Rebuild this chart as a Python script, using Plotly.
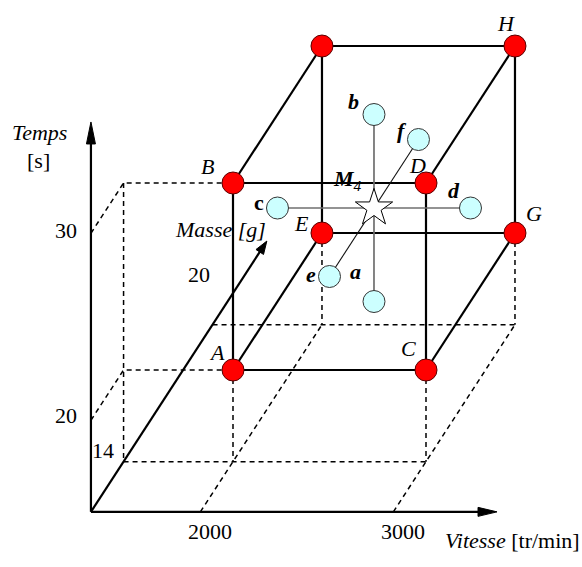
import numpy as np
import plotly.graph_objects as go

# --- Factor levels of the 2^3 design -------------------------------------
VITESSE_LEVELS = [2000, 3000]   # tr/min
MASSE_LEVELS = [14, 20]         # g
TEMPS_LEVELS = [20, 30]         # s

# Cube corners (label, vitesse, masse, temps); the back-top-left one is unnamed
corner_labels = ["A", "B", "C", "D", "E", "", "G", "H"]
corner_vitesse = [2000, 2000, 3000, 3000, 2000, 2000, 3000, 3000]
corner_masse = [14, 14, 14, 14, 20, 20, 20, 20]
corner_temps = [20, 30, 20, 30, 20, 30, 20, 30]

# Centre point and face-centred axial points
center_label = "M<sub>4</sub>"
center_point = [2500, 17, 25]
axial_labels = ["a", "b", "c", "d", "e", "f"]
axial_vitesse = [2500, 2500, 2000, 3000, 2500, 2500]
axial_masse = [17, 17, 17, 17, 14, 20]
axial_temps = [20, 30, 25, 25, 25, 25]

# Tick values shown on the three axes
vitesse_ticks = [2000, 3000]
temps_ticks = [20, 30]
masse_ticks = [14, 20]

# Where the drawn axes start and end (in data units)
AXIS_ORIGIN = (1433, 11.8, 15.1)
VITESSE_END = 3537
TEMPS_END = 35.95
MASSE_END = 23.66

# --- Oblique (cavalier-like) projection onto the canvas -------------------
W, H = 582, 567
ANCHOR_XY = (233.0, 370.0)      # canvas position of the (2000, 14, 20) corner
KV = 0.193                      # px per tr/min
KT = 18.7                       # px per s
MX, MY = 14.83, 22.83           # px per g (depth direction)


def proj(v, m, t):
    v = np.asarray(v, float)
    m = np.asarray(m, float)
    t = np.asarray(t, float)
    x = ANCHOR_XY[0] + KV * (v - VITESSE_LEVELS[0]) + MX * (m - MASSE_LEVELS[0])
    y = ANCHOR_XY[1] - KT * (t - TEMPS_LEVELS[0]) - MY * (m - MASSE_LEVELS[0])
    return x, y


def polyline_trace(paths, color="black", width=2.0, dash="solid"):
    xs, ys = [], []
    for path in paths:
        px, py = proj(*np.array(path, float).T)
        xs += list(px) + [None]
        ys += list(py) + [None]
    return go.Scatter(x=xs, y=ys, mode="lines", hoverinfo="skip",
                      line=dict(color=color, width=width, dash=dash))


def arrow_head(tail, tip, length, half):
    tx, ty = proj(*tail)
    hx, hy = proj(*tip)
    d = np.array([hx - tx, hy - ty], float)
    d /= np.linalg.norm(d)
    n = np.array([-d[1], d[0]])
    base = np.array([hx, hy]) - length * d
    p1 = base + half * n
    p2 = base - half * n
    return go.Scatter(x=[hx, p1[0], p2[0], hx], y=[hy, p1[1], p2[1], hy],
                      mode="lines", fill="toself", fillcolor="black",
                      line=dict(color="black", width=1), hoverinfo="skip")


V0, M0, T0 = AXIS_ORIGIN
v_lo, v_hi = VITESSE_LEVELS
m_lo, m_hi = MASSE_LEVELS
t_lo, t_hi = TEMPS_LEVELS
corner = {lab if lab else "F": (v, m, t) for lab, v, m, t in
          zip(corner_labels, corner_vitesse, corner_masse, corner_temps)}

fig = go.Figure()

# Dashed projection lines onto the axes and the floor
dashed = [
    [(V0, M0, temps_ticks[1]), (V0, m_lo, temps_ticks[1]), corner["B"]],
    [(V0, M0, temps_ticks[0]), (V0, m_lo, temps_ticks[0]), corner["A"]],
    [(V0, m_lo, temps_ticks[1]), (V0, m_lo, T0)],
    [(V0, m_lo, T0), (v_hi, m_lo, T0)],
    [corner["A"], (v_lo, m_lo, T0)],
    [corner["C"], (v_hi, m_lo, T0)],
    [(vitesse_ticks[0], M0, T0), (v_lo, m_hi, T0)],
    [(vitesse_ticks[1], M0, T0), (v_hi, m_hi, T0)],
    [corner["E"], (v_lo, m_hi, T0)],
    [corner["G"], (v_hi, m_hi, T0)],
    [(V0, m_hi, T0), (v_hi, m_hi, T0)],
]
fig.add_trace(polyline_trace(dashed, width=1.5, dash="5px,4px"))

# Axes
fig.add_trace(polyline_trace([
    [(V0, M0, T0), (VITESSE_END - 60, M0, T0)],
    [(V0, M0, T0), (V0, M0, TEMPS_END - 1.0)],
    [(V0, M0, T0), (V0, MASSE_END - 0.4, T0)],
], width=2.2))
fig.add_trace(arrow_head((V0, M0, T0), (VITESSE_END, M0, T0), 19, 4.5))
fig.add_trace(arrow_head((V0, M0, T0), (V0, M0, TEMPS_END), 22, 4.5))
fig.add_trace(arrow_head((V0, M0, T0), (V0, MASSE_END, T0), 13, 4.5))

# Cube edges
cube = [
    [corner["A"], corner["B"], corner["D"], corner["C"], corner["A"]],
    [corner["E"], corner["F"], corner["H"], corner["G"], corner["E"]],
    [corner["A"], corner["E"]], [corner["B"], corner["F"]],
    [corner["C"], corner["G"]], [corner["D"], corner["H"]],
]
fig.add_trace(polyline_trace(cube, width=2.2))

# Axial star lines through the centre point
ax_pts = list(zip(axial_vitesse, axial_masse, axial_temps))
fig.add_trace(polyline_trace([[ax_pts[0], ax_pts[1]], [ax_pts[2], ax_pts[3]]],
                             color="#6f6f6f", width=1.7))
fig.add_trace(polyline_trace([[ax_pts[4], ax_pts[5]]], color="#111111", width=1.1))

# Design points
cx, cy = proj(corner_vitesse, corner_masse, corner_temps)
fig.add_trace(go.Scatter(x=cx, y=cy, mode="markers", hoverinfo="skip",
                         marker=dict(size=22, color="#ff0000",
                                     line=dict(color="#5a0000", width=1))))
axx, axy = proj(axial_vitesse, axial_masse, axial_temps)
fig.add_trace(go.Scatter(x=axx, y=axy, mode="markers", hoverinfo="skip",
                         marker=dict(size=22, color="#ccffff",
                                     line=dict(color="#333333", width=1))))
sx, sy = proj(*center_point)
fig.add_trace(go.Scatter(x=[sx], y=[sy], mode="markers", hoverinfo="skip",
                         marker=dict(symbol="star", size=28, color="white",
                                     line=dict(color="black", width=1))))

FONT = dict(family="Liberation Serif, Times New Roman, serif", size=22, color="black")
annotations = []


def label(x, y, text, dx=0, dy=0, **kw):
    annotations.append(dict(x=float(x), y=float(y), text=text, showarrow=False,
                            xshift=dx, yshift=-dy, font=FONT, **kw))


# Corner letters (offsets in screen pixels)
corner_offsets = {"A": (-16, -18), "B": (-26, -17), "C": (-18, -22), "D": (-9, -18),
                  "E": (-20, -10), "G": (19, -20), "H": (-9, -23)}
for lab, x, y in zip(corner_labels, cx, cy):
    if lab:
        ox, oy = corner_offsets[lab]
        label(x, y, f"<i>{lab}</i>", ox, oy)

# Axial point letters
axial_offsets = {"a": (-18, -30), "b": (-20, -13), "c": (-18, -6),
                 "d": (-16, -18), "e": (-19, -2), "f": (-16, -9)}
for lab, x, y in zip(axial_labels, axx, axy):
    ox, oy = axial_offsets[lab]
    txt = f"<b>{lab}</b>" if lab == "c" else f"<b><i>{lab}</i></b>"
    label(x, y, txt, ox, oy)

label(sx, sy, "<b><i>M</i></b><i><sub>4</sub></i>", -26, -28)

# Axis tick labels and titles
for v in vitesse_ticks:
    x, y = proj(v, M0, T0)
    label(x, y, str(v), 10, 20)
temps_dy = {20: -5, 30: -3}
for t in temps_ticks:
    x, y = proj(V0, M0, t)
    label(x, y, str(t), -25, temps_dy[t])
x, y = proj(V0, masse_ticks[0], T0)
label(x, y, str(masse_ticks[0]), -21, -11)
x, y = proj(V0, masse_ticks[1], T0)
label(x, y, str(masse_ticks[1]), -14, -50)

x, y = proj(VITESSE_END, M0, T0)
label(x, y, "<i>Vitesse</i> [tr/min]", 85, 29, xanchor="right")
x, y = proj(V0, M0, TEMPS_END)
label(x, y, "<i>Temps</i>", -51, 11)
label(x, y, "[s]", -52, 39)
x, y = proj(V0, MASSE_END, T0)
label(x, y, "<i>Masse [g]</i>", -46, -12)

fig.update_layout(
    width=W, height=H,
    margin=dict(l=0, r=0, t=0, b=0),
    paper_bgcolor="white", plot_bgcolor="white",
    showlegend=False,
    xaxis=dict(range=[0, W], visible=False, fixedrange=True),
    yaxis=dict(range=[H, 0], visible=False, fixedrange=True),
    annotations=annotations,
)

fig.write_html("out.html")
